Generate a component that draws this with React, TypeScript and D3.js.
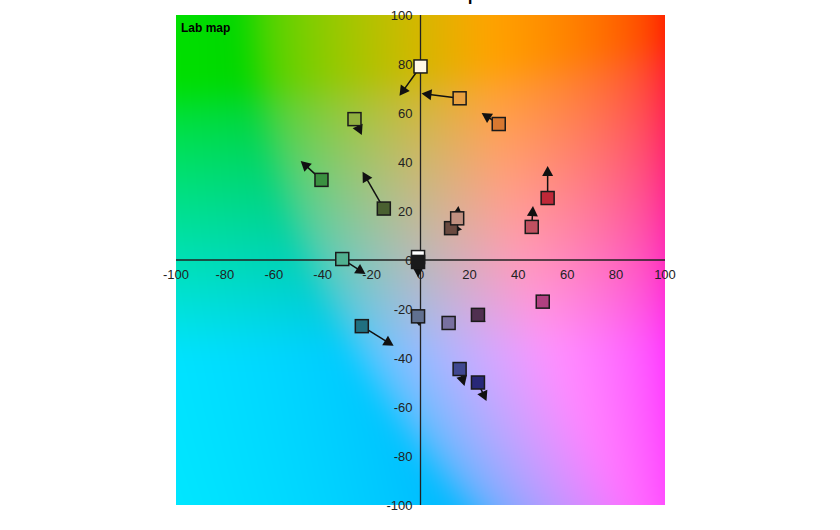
import React, { useMemo } from "react";
import * as d3 from "d3";

const ticks = [-100, -80, -60, -40, -20, 0, 20, 40, 60, 80, 100];
const sampleA = [0, 16, 32, -27, -40.5, -15, -32, -1, -1, 12.5, 15, 52, 45.5, 50, 23.5, 11.5, -1, -24, 16, 23.5];
const sampleB = [79, 66, 55.5, 57.5, 32.7, 21, 0.4, 1.2, -0.8, 13, 17, 25.3, 13.5, -17, -22.4, -25.7, -23, -27, -44.5, -50];
const targetA = [-8.6, 0.4, 25, -24, -49, -23.7, -22.5, -1, -1, 17, 15.5, 52, 46, 49, 26.6, 10.5, -0.5, -11, 18, 27];
const targetB = [67, 68, 60, 51, 40.4, 36, -5.7, 1.2, -7, 12.5, 22, 38.4, 22, -14, -25.3, -23, -27, -35, -51.4, -57.6];
const fills = ["#fff8e8", "#e8a040", "#d87830", "#90b040", "#3a9040", "#4a6030", "#50b090", "#ffffff", "#1a1a1a", "#6a4a40", "#c09080", "#c02838", "#c05060", "#b04080", "#503050", "#7870a0", "#607090", "#207080", "#404890", "#282878"];

const W = 840, H = 530;
const X0 = 176, X1 = 665, Y0 = 15, Y1 = 505;
const L = 75;

export default function App() {
  const x = d3.scaleLinear().domain([-100, 100]).range([X0, X1]);
  const y = d3.scaleLinear().domain([-100, 100]).range([Y1, Y0]);

  const bg = useMemo(() => {
    const w = X1 - X0, h = Y1 - Y0, m = 60;
    const big = document.createElement("canvas");
    big.width = w + 2 * m; big.height = h + 2 * m;
    const bctx = big.getContext("2d");
    if (!bctx) return "";
    const img = bctx.createImageData(big.width, big.height);
    for (let j = 0; j < big.height; j++) {
      const b = y.invert(Y0 - m + j + 0.5);
      for (let i = 0; i < big.width; i++) {
        const a = x.invert(X0 - m + i + 0.5);
        const rgb = d3.lab(L, a, b).rgb();
        const k = (j * big.width + i) * 4;
        img.data[k] = Math.max(0, Math.min(255, rgb.r));
        img.data[k + 1] = Math.max(0, Math.min(255, rgb.g));
        img.data[k + 2] = Math.max(0, Math.min(255, rgb.b));
        img.data[k + 3] = 255;
      }
    }
    bctx.putImageData(img, 0, 0);
    const c = document.createElement("canvas");
    c.width = w; c.height = h;
    const ctx = c.getContext("2d");
    if (!ctx) return "";
    ctx.filter = "blur(14px)";
    ctx.drawImage(big, -m, -m);
    return c.toDataURL();
  }, []);

  const sq = 13;
  const arrows = sampleA.map((a, i) => {
    const x1 = x(a), y1 = y(sampleB[i]);
    const x2 = x(targetA[i]), y2 = y(targetB[i]);
    const dx = x2 - x1, dy = y2 - y1;
    const len = Math.hypot(dx, dy);
    if (len < 2) return null;
    const ux = dx / len, uy = dy / len;
    const hl = 10, hw = 5.5;
    const bx = x2 - ux * hl, by = y2 - uy * hl;
    const p = `${x2},${y2} ${bx - uy * hw},${by + ux * hw} ${bx + uy * hw},${by - ux * hw}`;
    return (
      <g key={"ar" + i}>
        <line x1={x1} y1={y1} x2={bx + ux * 2} y2={by + uy * 2} stroke="#111" strokeWidth={1.5} />
        <polygon points={p} fill="#111" />
      </g>
    );
  });

  return (
    <svg width={W} height={H} style={{ position: "absolute", left: 0, top: 0, background: "#fff" }} fontFamily="Liberation Sans, Arial, sans-serif">
      <text x={431} y={-1} textAnchor="middle" fontSize={26} fill="#000">Lab map</text>
      {bg && <image href={bg} x={X0} y={Y0} width={X1 - X0} height={Y1 - Y0} preserveAspectRatio="none" />}
      <text x={181} y={32} fontSize={12} fontWeight="bold" fill="#000">Lab map</text>
      <line x1={X0} x2={X1} y1={y(0)} y2={y(0)} stroke="#222" strokeWidth={1.3} />
      <line x1={x(0)} x2={x(0)} y1={Y0} y2={Y1} stroke="#222" strokeWidth={1.3} />
      {ticks.map((t) => (
        <text key={"xt" + t} x={x(t)} y={y(0) + 19} textAnchor="middle" fontSize={13} fill="#222">{t}</text>
      ))}
      {ticks.map((t) => (
        <text key={"yt" + t} x={x(0) - 8} y={y(t) + 5} textAnchor="end" fontSize={13} fill="#222">{t}</text>
      ))}
      {arrows}
      {sampleA.map((a, i) => (
        <rect key={"sq" + i} x={x(a) - sq / 2} y={y(sampleB[i]) - sq / 2} width={sq} height={sq} fill={fills[i]} stroke="#1a1a1a" strokeWidth={1.5} />
      ))}
    </svg>
  );
}
